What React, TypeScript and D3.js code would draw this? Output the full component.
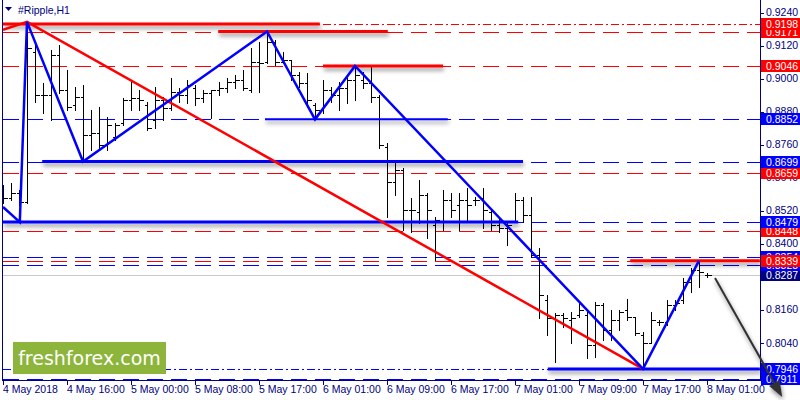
import * as d3 from 'd3';

// Ripple H1 chart, MT4 style
const timeLabels = ['4 May 2018', '4 May 16:00', '5 May 00:00', '5 May 08:00', '5 May 17:00', '6 May 01:00',
  '6 May 09:00', '6 May 17:00', '7 May 01:00', '7 May 09:00', '7 May 17:00', '8 May 01:00'];

const highs = [0.8613, 0.8621, 0.8595, 0.9206, 0.9129, 0.8984, 0.9104, 0.9122, 0.9031, 0.8970,
  0.8977, 0.8886, 0.8897, 0.8861, 0.8839, 0.8930, 0.8988, 0.8959, 0.8915, 0.8970,
  0.8933, 0.9002, 0.8966, 0.8995, 0.8977, 0.8959, 0.8959, 0.8988, 0.9002, 0.9013,
  0.9031, 0.9111, 0.9133, 0.9173, 0.9140, 0.9097, 0.9068, 0.9024, 0.9020, 0.8911,
  0.8995, 0.8970, 0.8988, 0.9006, 0.9049, 0.9024, 0.9049, 0.8941, 0.8766, 0.8704,
  0.8675, 0.8566, 0.8632, 0.8584, 0.8497, 0.8595, 0.8584, 0.8584, 0.8603, 0.8570,
  0.8603, 0.8523, 0.8497, 0.8476, 0.8584, 0.8570, 0.8570, 0.8385, 0.8214, 0.8149,
  0.8149, 0.8152, 0.8185, 0.8160, 0.8189, 0.8185, 0.8160, 0.8160, 0.8200, 0.8134,
  0.8080, 0.8152, 0.8123, 0.8196, 0.8196, 0.8276, 0.8312, 0.8341, 0.8294];
const lows = [0.8548, 0.8559, 0.8541, 0.8548, 0.8915, 0.8875, 0.8850, 0.8948, 0.8886, 0.8886,
  0.8697, 0.8741, 0.8748, 0.8741, 0.8777, 0.8832, 0.8886, 0.8886, 0.8813, 0.8820,
  0.8850, 0.8886, 0.8915, 0.8911, 0.8904, 0.8915, 0.8857, 0.8941, 0.8951, 0.8966,
  0.8959, 0.8951, 0.8951, 0.9057, 0.9049, 0.9057, 0.8995, 0.8970, 0.8897, 0.8861,
  0.8875, 0.8915, 0.8886, 0.8911, 0.8922, 0.8966, 0.8915, 0.8748, 0.8497, 0.8577,
  0.8450, 0.8443, 0.8476, 0.8421, 0.8341, 0.8450, 0.8497, 0.8450, 0.8486, 0.8541,
  0.8457, 0.8450, 0.8443, 0.8396, 0.8479, 0.8479, 0.8352, 0.8131, 0.8069, 0.7971,
  0.8098, 0.8040, 0.8134, 0.7986, 0.7989, 0.8051, 0.8051, 0.8087, 0.8123, 0.8069,
  0.7953, 0.8040, 0.8105, 0.8105, 0.8160, 0.8185, 0.8225, 0.8243, 0.8280];
const opens = [0.8577, 0.8566, 0.8584, 0.8552, 0.9097, 0.8941, 0.8941, 0.9086, 0.8959, 0.8904,
  0.8933, 0.8795, 0.8802, 0.8759, 0.8788, 0.8839, 0.8922, 0.8930, 0.8904, 0.8850,
  0.8922, 0.8893, 0.8951, 0.8941, 0.8966, 0.8930, 0.8948, 0.8959, 0.8966, 0.8988,
  0.8995, 0.8959, 0.9060, 0.9060, 0.9133, 0.9060, 0.9068, 0.9013, 0.8984, 0.8904,
  0.8886, 0.8959, 0.8941, 0.8966, 0.8995, 0.8995, 0.8984, 0.8933, 0.8751, 0.8624,
  0.8668, 0.8523, 0.8515, 0.8577, 0.8468, 0.8479, 0.8559, 0.8541, 0.8559, 0.8559,
  0.8566, 0.8515, 0.8468, 0.8457, 0.8479, 0.8559, 0.8505, 0.8359, 0.8196, 0.8131,
  0.8142, 0.8123, 0.8142, 0.8142, 0.8033, 0.8178, 0.8087, 0.8123, 0.8160, 0.8134,
  0.8069, 0.8040, 0.8116, 0.8116, 0.8178, 0.8196, 0.8261, 0.8305, 0.8287];
const closes = [0.8566, 0.8584, 0.8552, 0.9111, 0.8941, 0.8941, 0.9086, 0.8959, 0.8897, 0.8933,
  0.8795, 0.8802, 0.8759, 0.8832, 0.8832, 0.8922, 0.8930, 0.8922, 0.8820, 0.8922,
  0.8893, 0.8951, 0.8941, 0.8977, 0.8930, 0.8948, 0.8959, 0.8966, 0.8988, 0.8995,
  0.8966, 0.9060, 0.9057, 0.9133, 0.9060, 0.9068, 0.9013, 0.8984, 0.8922, 0.8886,
  0.8959, 0.8941, 0.8966, 0.8995, 0.9013, 0.8984, 0.8933, 0.8759, 0.8624, 0.8668,
  0.8523, 0.8523, 0.8577, 0.8523, 0.8486, 0.8559, 0.8523, 0.8559, 0.8541, 0.8559,
  0.8523, 0.8468, 0.8457, 0.8468, 0.8559, 0.8505, 0.8359, 0.8214, 0.8131, 0.8142,
  0.8131, 0.8131, 0.8160, 0.8033, 0.8178, 0.8087, 0.8123, 0.8152, 0.8134, 0.8076,
  0.8040, 0.8123, 0.8116, 0.8178, 0.8185, 0.8261, 0.8305, 0.8298, 0.8287];

const priceTicks = [0.9240, 0.9120, 0.9000, 0.8880, 0.8760, 0.8640, 0.8520, 0.8400, 0.8280, 0.8160, 0.8040, 0.7920];

// horizontal levels: price + kind (drawn in this order, boxes too)
const levelPrices = [0.7911, 0.7946, 0.8287, 0.8323, 0.8354, 0.8339, 0.8448, 0.8479, 0.8659, 0.8699, 0.8852, 0.9046, 0.9171, 0.9198];
const levelKinds = ['blueThick', 'blueDashDot', 'current', 'blue', 'blue', 'red', 'red', 'blue', 'red', 'blue', 'blue', 'red', 'red', 'redDashDot'];

// thick trend segments with shadow: [startBar, endBar, price]
const segStart = [0, 26.9, 40, 32.75, 4.9, 0, 78.4, 68.1];
const segEnd = [39.6, 48.1, 55, 55.6, 65, 64.4, 94.6, 94.6];
const segPrice = [0.9198, 0.9171, 0.9046, 0.8852, 0.8699, 0.8479, 0.8339, 0.7946];
const segColor = ['red', 'red', 'red', 'blue', 'blue', 'blue', 'red', 'blue'];

const zigBar = [0, 2.1, 3, 10, 33, 39, 44, 80, 87];
const zigPrice = [0.8534, 0.8479, 0.9206, 0.8699, 0.9171, 0.8852, 0.9046, 0.7946, 0.8339];
const redBar = [0, 3, 80];
const redPrice = [0.9177, 0.9206, 0.7946];
const arrowBar = [89, 97.4];
const arrowPrice = [0.8276, 0.7844];

const W = 800, H = 400;
const left = 3, right = 760, bottom = 380;
const navy = '#000080';
const font = '"Liberation Sans", Arial, sans-serif';

const x = d3.scaleLinear().domain([0, 94.625]).range([left, right]);
const y = d3.scaleLinear().domain([0.9240, 0.8040]).range([12.5, 343]);

const kindStyle: Record<string, any> = {
  red: { stroke: '#ff0000', dash: '16,8', w: 1, box: '#ff0000' },
  blue: { stroke: '#0000ff', dash: '16,8', w: 1, box: '#0000ff' },
  redDashDot: { stroke: '#ff0000', dash: '8,3,2,3', w: 1, box: '#ff0000' },
  blueDashDot: { stroke: '#0000ff', dash: '8,3,2,3', w: 1, box: '#0000ff' },
  blueThick: { stroke: '#0000ff', dash: '16,8', w: 2, box: '#0000ff' },
  current: { stroke: '#c8c8c8', dash: null, w: 1, box: navy },
};

export default function App() {
  const line = d3.line<[number, number]>().x(d => x(d[0])).y(d => y(d[1]));
  const zig = line(zigBar.map((b, i) => [b, zigPrice[i]]));
  const red = line(redBar.map((b, i) => [b, redPrice[i]]));
  const ax0 = x(arrowBar[0]), ay0 = y(arrowPrice[0]);
  const ax1 = x(arrowBar[1]), ay1 = y(arrowPrice[1]);
  const ang = Math.atan2(ay1 - ay0, ax1 - ax0);
  const ah = 16, aw = 6;
  const head = [
    [ax1, ay1],
    [ax1 - ah * Math.cos(ang) + aw * Math.sin(ang), ay1 - ah * Math.sin(ang) - aw * Math.cos(ang)],
    [ax1 - ah * Math.cos(ang) - aw * Math.sin(ang), ay1 - ah * Math.sin(ang) + aw * Math.cos(ang)],
  ].map(p => p.join(',')).join(' ');

  return (
    <svg width={W} height={H} style={{ position: 'absolute', left: 0, top: 0, background: '#fff' }}>
      <defs>
        <filter id="sh" filterUnits="userSpaceOnUse" x="0" y="0" width={W} height={H}>
          <feDropShadow dx="1" dy="3" stdDeviation="2" floodColor="#000" floodOpacity="0.45" />
        </filter>
        <clipPath id="plot"><rect x={left} y={0} width={right - left} height={bottom} /></clipPath>
      </defs>

      <g clipPath="url(#plot)">
        {/* level lines */}
        {levelPrices.map((p, i) => {
          const s = kindStyle[levelKinds[i]];
          const yy = Math.round(y(p)) + 0.5;
          return <line key={'lv' + i} x1={left} x2={right} y1={yy} y2={yy} stroke={s.stroke}
            strokeWidth={s.w} strokeDasharray={s.dash || undefined} shapeRendering="crispEdges" />;
        })}

        {/* bars */}
        {highs.map((h, i) => {
          const xx = Math.round(x(i)) + 0.5;
          const yo = Math.round(y(opens[i])) + 0.5, yc = Math.round(y(closes[i])) + 0.5;
          return (
            <g key={'b' + i} stroke="#000" strokeWidth={1} shapeRendering="crispEdges">
              <line x1={xx} x2={xx} y1={Math.round(y(h))} y2={Math.round(y(lows[i])) + 1} />
              <line x1={xx - 3} x2={xx} y1={yo} y2={yo} />
              <line x1={xx} x2={xx + 4} y1={yc} y2={yc} />
            </g>
          );
        })}

        {/* thick horizontal segments */}
        {segPrice.map((p, i) => (
          <line key={'sg' + i} x1={x(segStart[i])} x2={x(segEnd[i])} y1={y(p)} y2={y(p)}
            stroke={segColor[i] === 'red' ? '#ff0000' : '#0000ff'}
            strokeWidth={segPrice[i] === 0.8852 ? 2 : 3} filter="url(#sh)" />
        ))}

        <path d={red || ''} fill="none" stroke="#ff0000" strokeWidth={2.5} />
        <path d={zig || ''} fill="none" stroke="#0000ff" strokeWidth={2.5} />
      </g>

      {/* frame */}
      <line x1={left - 0.5} x2={left - 0.5} y1={0} y2={bottom} stroke={navy} />
      <line x1={right + 0.5} x2={right + 0.5} y1={0} y2={bottom} stroke={navy} />
      <line x1={left - 1} x2={right + 1} y1={bottom + 0.5} y2={bottom + 0.5} stroke={navy} />

      {/* price axis */}
      {priceTicks.map(t => (
        <g key={'pt' + t}>
          <line x1={right} x2={right + 4} y1={Math.round(y(t)) + 0.5} y2={Math.round(y(t)) + 0.5} stroke={navy} />
          <text x={766} y={y(t) + 3.5} fontFamily={font} fontSize={10.5} fill={navy}>{t.toFixed(4)}</text>
        </g>
      ))}

      {/* time axis */}
      {timeLabels.map((t, i) => (
        <g key={'tl' + i}>
          <line x1={Math.round(x(i * 8)) + 0.5} x2={Math.round(x(i * 8)) + 0.5} y1={bottom} y2={bottom + 5} stroke={navy} />
          <text x={x(i * 8)} y={393} fontFamily={font} fontSize={10.5} fill={navy}>{t}</text>
        </g>
      ))}

      {/* level boxes */}
      {levelPrices.map((p, i) => {
        const s = kindStyle[levelKinds[i]];
        const yy = y(p);
        return (
          <g key={'bx' + i}>
            <rect x={right + 1} y={Math.round(yy) - 6} width={W - right - 1} height={12} fill={s.box} />
            <text x={766} y={yy + 4} fontFamily={font} fontSize={10.5} fill="#fff">{p.toFixed(4)}</text>
          </g>
        );
      })}

      {/* arrow */}
      <g filter="url(#sh)">
        <line x1={ax0} y1={ay0} x2={ax1 - 10 * Math.cos(ang)} y2={ay1 - 10 * Math.sin(ang)} stroke="#333" strokeWidth={2} />
        <polygon points={head} fill="#333" />
      </g>

      {/* title */}
      <polygon points="5,7 12,7 8.5,11" fill={navy} />
      <text x={18} y={14} fontFamily={font} fontSize={10.5} fill={navy}>#Ripple,H1</text>

      {/* logo */}
      <rect x={13} y={342} width={153} height={32} fill="#8db53c" />
      <text x={89.5} y={365} textAnchor="middle" fontFamily='"DejaVu Sans", sans-serif' fontSize={19} fill="#fff">freshforex.com</text>
    </svg>
  );
}
